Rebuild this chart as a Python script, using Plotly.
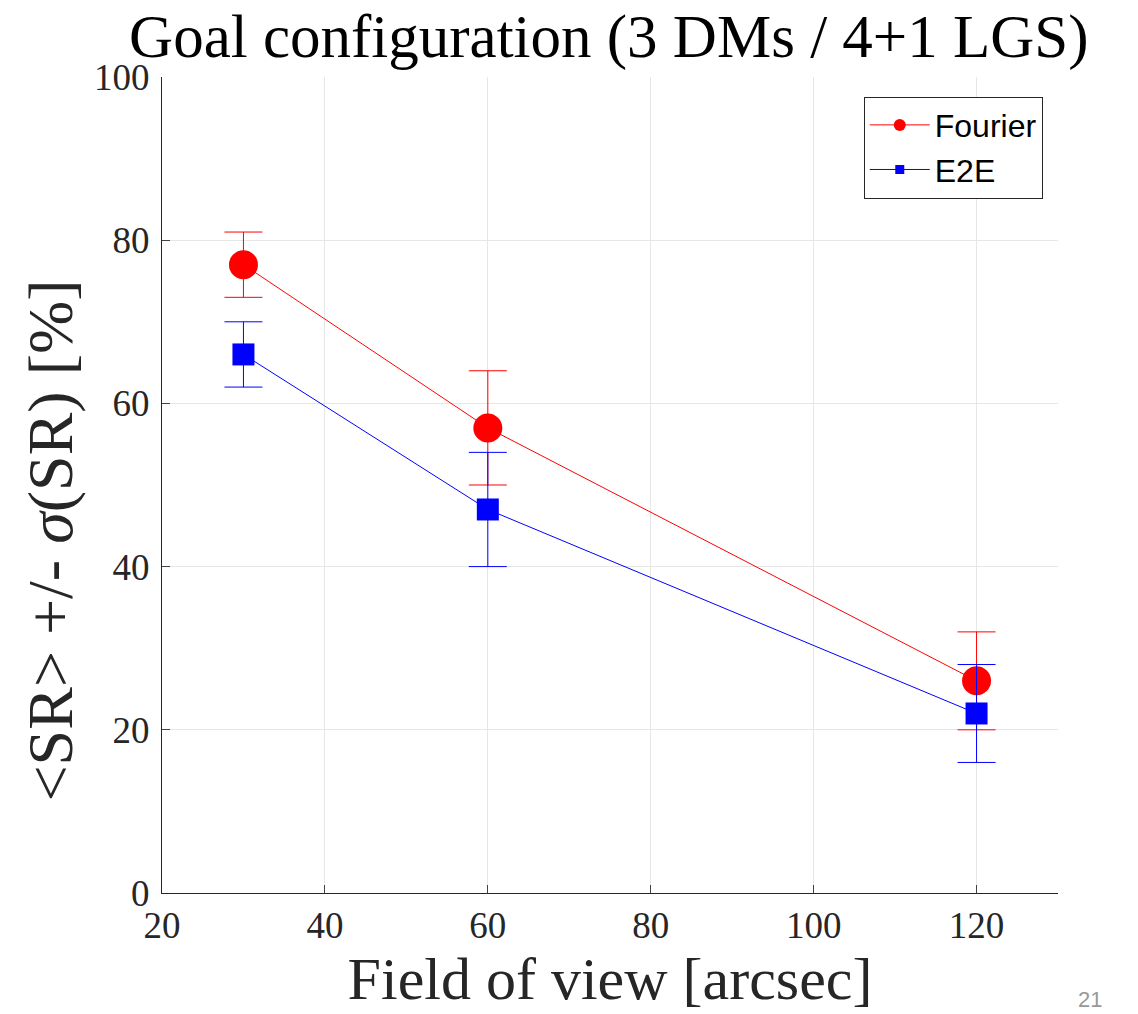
import plotly.graph_objects as go

fov = [30, 60, 120]
fourier_sr = [77, 57, 26]
fourier_err = [4, 7, 6]
e2e_sr = [66, 47, 22]
e2e_err = [4, 7, 6]

x_ticks = [20, 40, 60, 80, 100, 120]
y_ticks = [0, 20, 40, 60, 80, 100]

serif = "Liberation Serif, DejaVu Serif, serif"
sans = "Liberation Sans, Arial, sans-serif"

fig = go.Figure()
fig.add_trace(go.Scatter(
    x=fov, y=fourier_sr, name="Fourier", mode="lines+markers",
    line=dict(color="#ff0000", width=1),
    marker=dict(symbol="circle", size=29, color="#ff0000"),
    error_y=dict(type="data", array=fourier_err, color="#ff0000", thickness=1, width=19),
    showlegend=False,
))
fig.add_trace(go.Scatter(
    x=fov, y=e2e_sr, name="E2E", mode="lines+markers",
    line=dict(color="#0000ff", width=1),
    marker=dict(symbol="square", size=22, color="#0000ff"),
    error_y=dict(type="data", array=e2e_err, color="#0000ff", thickness=1, width=19),
    showlegend=False,
))
# legend entries (smaller markers, as in the reference legend)
fig.add_trace(go.Scatter(
    x=[None], y=[None], name="Fourier", mode="lines+markers",
    line=dict(color="#ff0000", width=1),
    marker=dict(symbol="circle", size=12, color="#ff0000"),
))
fig.add_trace(go.Scatter(
    x=[None], y=[None], name="E2E", mode="lines+markers",
    line=dict(color="#0000ff", width=1),
    marker=dict(symbol="square", size=9, color="#0000ff"),
))

fig.update_layout(
    width=1138, height=1014,
    margin=dict(l=162, r=80, t=77, b=121),
    paper_bgcolor="white", plot_bgcolor="white",
    title=dict(text="Goal configuration (3 DMs / 4+1 LGS)", x=0.535, xanchor="center",
               y=0.965, yanchor="middle", font=dict(family=serif, size=61, color="#000")),
    xaxis=dict(range=[20, 130], tickvals=x_ticks, ticks="inside", ticklen=8,
               showline=True, linecolor="#262626", linewidth=1, mirror=False,
               showgrid=True, gridcolor="#e6e6e6", gridwidth=1, zeroline=False,
               tickfont=dict(family=serif, size=37, color="#262626"),
               title=dict(text="Field of view [arcsec]", standoff=8,
                          font=dict(family=serif, size=60, color="#262626"))),
    yaxis=dict(range=[0, 100], tickvals=y_ticks, ticks="inside", ticklen=8,
               showline=True, linecolor="#262626", linewidth=1, mirror=False,
               showgrid=True, gridcolor="#e6e6e6", gridwidth=1, zeroline=False,
               ticklabelstandoff=4,
               tickfont=dict(family=serif, size=37, color="#262626")),
    legend=dict(x=0.983, y=0.976, xanchor="right", yanchor="top",
                bgcolor="white", bordercolor="#262626", borderwidth=1,
                font=dict(family=sans, size=32, color="#000"),
                itemwidth=60, tracegroupgap=0),
    showlegend=True,
)

# y-axis title as a rotated annotation so it can sit where the reference has it
fig.add_annotation(text="<SR> +/- <i>σ</i>(SR) [%]", xref="paper", yref="paper",
                   x=-0.125, y=0.432, xanchor="center", yanchor="middle",
                   textangle=-90, showarrow=False,
                   font=dict(family=serif, size=64, color="#262626"))

fig.add_annotation(text="21", xref="paper", yref="paper", x=1.036, y=-0.148,
                   xanchor="center", yanchor="bottom", showarrow=False,
                   font=dict(family=sans, size=22, color="#999999"))

fig.write_html("out.html")
